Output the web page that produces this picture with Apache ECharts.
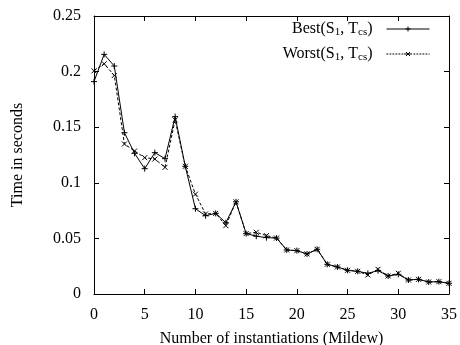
<!DOCTYPE html>
<html>
<head>
<meta charset="utf-8">
<script src="https://cdn.jsdelivr.net/npm/echarts@6/dist/echarts.min.js"></script>
<style>
  html, body { margin: 0; padding: 0; background: #fff; }
  #chart { width: 460px; height: 345px; }
</style>
</head>
<body>
<div id="chart"></div>
<script>
// x = number of instantiations, 0..35
const instantiations = [
  0, 1, 2, 3, 4, 5, 6, 7, 8, 9, 10, 11, 12, 13, 14, 15, 16, 17,
  18, 19, 20, 21, 22, 23, 24, 25, 26, 27, 28, 29, 30, 31, 32, 33, 34, 35,
];
const bestTimes = [
  0.191, 0.2155, 0.205, 0.145, 0.1265, 0.1127, 0.1271, 0.1217, 0.1595, 0.1148,
  0.0767, 0.0704, 0.0725, 0.0641, 0.0829, 0.0543, 0.052, 0.0507, 0.0503, 0.0396,
  0.039, 0.036, 0.0402, 0.0267, 0.0243, 0.0213, 0.0204, 0.0186, 0.021, 0.0162,
  0.0177, 0.0126, 0.0132, 0.0108, 0.0111, 0.0096,
];
const worstTimes = [
  0.2007, 0.207, 0.1965, 0.1349, 0.1286, 0.1226, 0.1214, 0.1139, 0.1565, 0.1148,
  0.0898, 0.072, 0.0725, 0.0615, 0.0829, 0.0543, 0.0555, 0.0525, 0.0503, 0.0396,
  0.039, 0.036, 0.0402, 0.0267, 0.0243, 0.0213, 0.0204, 0.0171, 0.0222, 0.0162,
  0.0186, 0.0126, 0.0132, 0.0108, 0.0111, 0.0096,
];
const seriesNames = ["Best", "Worst"];

const FONT = "Liberation Serif";
const plusPath = "path://M5,0L5,10M0,5L10,5";
const crossPath = "path://M0,0L10,10M10,0L0,10";

// legend samples: a line with the marker in the middle
const legendBest = "path://M0,2.5L43,2.5M21.5,0L21.5,5M19,2.5L24,2.5";
let dashes = "";
for (let x = 0; x < 43; x += 3) {
  if (x > 16 && x < 26) continue;
  dashes += "M" + x + ",2.5L" + Math.min(x + 1.8, 43) + ",2.5";
}
const legendWorst = "path://" + dashes + "M17.5,2.5L25.5,2.5M19.5,0.5L23.5,4.5M23.5,0.5L19.5,4.5";

const chart = echarts.init(document.getElementById("chart"));

const tickStyle = { show: true, inside: true, length: 5, lineStyle: { color: "#000", width: 1 } };
const lineAxis = { show: true, onZero: false, lineStyle: { color: "#000", width: 1 } };

chart.setOption({
  animation: false,
  textStyle: { fontFamily: FONT, color: "#000" },
  grid: { left: 94, right: 11, top: 16, bottom: 51, outerBoundsMode: "none" },
  legend: {
    right: 30,
    top: 21,
    padding: 0,
    orient: "vertical",
    align: "right",
    itemGap: 8,
    itemWidth: 43,
    itemHeight: 5,
    itemStyle: { borderWidth: 1, borderColor: "#000" },
    textStyle: {
      fontFamily: FONT,
      fontSize: 16,
      color: "#000",
      padding: [0, 9, 0, 0],
      rich: {
        sub: { fontFamily: FONT, fontSize: 11, color: "#000", padding: [7, 0, 0, 0] },
      },
    },
    formatter: (name) => name + "(S{sub|1}, T{sub|cs})",
    data: [
      { name: "Best", icon: legendBest },
      { name: "Worst", icon: legendWorst },
    ],
  },
  xAxis: [
    {
      type: "value",
      min: 0,
      max: 35,
      interval: 5,
      name: "Number of instantiations (Mildew)",
      nameLocation: "middle",
      nameGap: 37,
      nameTextStyle: { fontFamily: FONT, fontSize: 16, color: "#000" },
      axisLine: lineAxis,
      axisTick: tickStyle,
      axisLabel: { fontFamily: FONT, fontSize: 16, color: "#000", margin: 13 },
      splitLine: { show: false },
    },
    {
      type: "value",
      position: "top",
      min: 0,
      max: 35,
      interval: 5,
      axisLine: lineAxis,
      axisTick: tickStyle,
      axisLabel: { show: false },
      splitLine: { show: false },
    },
  ],
  yAxis: [
    {
      type: "value",
      min: 0,
      max: 0.25,
      interval: 0.05,
      name: "Time in seconds",
      nameLocation: "middle",
      nameGap: 68,
      nameTextStyle: { fontFamily: FONT, fontSize: 16, color: "#000" },
      axisLine: lineAxis,
      axisTick: tickStyle,
      axisLabel: { fontFamily: FONT, fontSize: 16, color: "#000", margin: 13 },
      splitLine: { show: false },
    },
    {
      type: "value",
      position: "right",
      min: 0,
      max: 0.25,
      interval: 0.05,
      axisLine: lineAxis,
      axisTick: tickStyle,
      axisLabel: { show: false },
      splitLine: { show: false },
    },
  ],
  series: [
    {
      name: seriesNames[0],
      type: "line",
      data: instantiations.map((x, i) => [x, bestTimes[i]]),
      symbol: plusPath,
      symbolSize: 6,
      showAllSymbol: true,
      lineStyle: { color: "#000", width: 1 },
      itemStyle: { color: "#000", borderColor: "#000", borderWidth: 1 },
      z: 3,
    },
    {
      name: seriesNames[1],
      type: "line",
      data: instantiations.map((x, i) => [x, worstTimes[i]]),
      symbol: crossPath,
      symbolSize: 5,
      showAllSymbol: true,
      lineStyle: { color: "#000", width: 1, type: [3, 2] },
      itemStyle: { color: "#000", borderColor: "#000", borderWidth: 1 },
      z: 2,
    },
  ],
});
</script>
</body>
</html>
